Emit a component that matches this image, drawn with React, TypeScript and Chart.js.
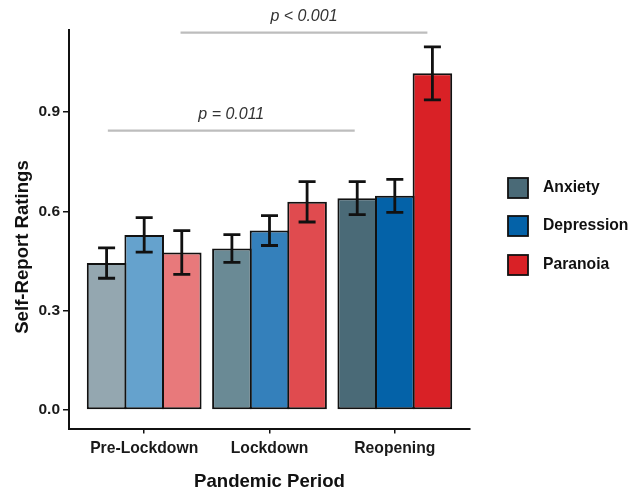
import React, { useEffect, useRef } from 'react';
import { Chart, registerables } from 'chart.js';

Chart.register(...registerables);

const periods = ['Pre-Lockdown', 'Lockdown', 'Reopening'];
const seriesNames = ['Anxiety', 'Depression', 'Paranoia'];
const anxietyMeans = [0.444, 0.488, 0.64];
const anxietyErrors = [0.046, 0.042, 0.05];
const depressionMeans = [0.529, 0.542, 0.647];
const depressionErrors = [0.052, 0.045, 0.05];
const paranoiaMeans = [0.476, 0.629, 1.017];
const paranoiaErrors = [0.066, 0.061, 0.08];
const anxietyColors = ['#94a7b0', '#6a8a95', '#4a6a77'];
const depressionColors = ['#65a2cd', '#3480bb', '#0462a8'];
const paranoiaColors = ['#e8797b', '#e04b4f', '#d92126'];
const yTicks = [0, 0.3, 0.6, 0.9];
const sigLabels = ['p = 0.011', 'p < 0.001'];
const sigStart = [0.71, 1.29];
const sigEnd = [2.68, 3.26];
const sigLevel = [0.844, 1.14];
const xTitle = 'Pandemic Period';
const yTitle = 'Self-Report Ratings';

const FONT = "'Liberation Sans', Arial, sans-serif";

const errorBarPlugin = {
  id: 'errorBars',
  afterDatasetsDraw(chart: any) {
    const ctx = chart.ctx;
    const y = chart.scales.y;
    chart.data.datasets.forEach((ds: any, d: number) => {
      const meta = chart.getDatasetMeta(d);
      meta.data.forEach((el: any, i: number) => {
        const v = ds.data[i].y;
        const e = ds.errors[i];
        const top = y.getPixelForValue(v + e);
        const bot = y.getPixelForValue(v - e);
        const cx = el.x;
        ctx.save();
        ctx.strokeStyle = '#111';
        ctx.lineWidth = 2.8;
        ctx.beginPath();
        ctx.moveTo(cx, top);
        ctx.lineTo(cx, bot);
        ctx.moveTo(cx - 8.5, top);
        ctx.lineTo(cx + 8.5, top);
        ctx.moveTo(cx - 8.5, bot);
        ctx.lineTo(cx + 8.5, bot);
        ctx.stroke();
        ctx.restore();
      });
    });
  },
};

const annotationPlugin = {
  id: 'annotations',
  afterDraw(chart: any) {
    const ctx = chart.ctx;
    const x = chart.scales.x;
    const y = chart.scales.y;
    const area = chart.chartArea;
    ctx.save();
    sigLabels.forEach((label, i) => {
      const x0 = x.getPixelForValue(sigStart[i]);
      const x1 = x.getPixelForValue(sigEnd[i]);
      const py = y.getPixelForValue(sigLevel[i]);
      ctx.strokeStyle = '#bdbdbd';
      ctx.lineWidth = 2.4;
      ctx.beginPath();
      ctx.moveTo(x0, py);
      ctx.lineTo(x1, py);
      ctx.stroke();
      ctx.fillStyle = '#333';
      ctx.font = `italic 16px ${FONT}`;
      ctx.textAlign = 'center';
      ctx.textBaseline = 'middle';
      ctx.fillText(label, (x0 + x1) / 2, py - 16);
    });
    ctx.fillStyle = '#111';
    ctx.font = `bold 18.6px ${FONT}`;
    ctx.textAlign = 'center';
    ctx.textBaseline = 'middle';
    ctx.fillText(xTitle, (area.left + area.right) / 2, 482);
    ctx.save();
    ctx.translate(23, 247);
    ctx.rotate(-Math.PI / 2);
    ctx.fillText(yTitle, 0, 0);
    ctx.restore();
    const centers = [188, 226, 265];
    chart.data.datasets.forEach((ds: any, d: number) => {
      const cy = centers[d];
      ctx.fillStyle = ds.legendColor;
      ctx.fillRect(508, cy - 10, 20, 20);
      ctx.strokeStyle = '#111';
      ctx.lineWidth = 1.8;
      ctx.strokeRect(508, cy - 10, 20, 20);
      ctx.fillStyle = '#111';
      ctx.font = `bold 15.7px ${FONT}`;
      ctx.textAlign = 'left';
      ctx.textBaseline = 'middle';
      ctx.fillText(ds.label, 543, cy);
    });
    ctx.restore();
  },
};

export default function App() {
  const ref = useRef<HTMLCanvasElement>(null);
  useEffect(() => {
    const means = [anxietyMeans, depressionMeans, paranoiaMeans];
    const errs = [anxietyErrors, depressionErrors, paranoiaErrors];
    const cols = [anxietyColors, depressionColors, paranoiaColors];
    const datasets = seriesNames.map((name, s) => ({
      label: name,
      data: periods.map((_, i) => ({ x: i + 1, y: means[s][i] })),
      errors: errs[s],
      backgroundColor: cols[s],
      legendColor: cols[s][2],
      borderColor: '#111',
      borderWidth: 2,
      borderSkipped: false,
      categoryPercentage: 0.9,
      barPercentage: 1.053,
    }));
    const chart = new Chart(ref.current as HTMLCanvasElement, {
      type: 'bar',
      data: { datasets } as any,
      plugins: [errorBarPlugin, annotationPlugin],
      options: {
        animation: false,
        responsive: false,
        devicePixelRatio: 1,
        events: [],
        layout: { padding: { left: 0, top: 29.5, right: 161, bottom: 0 } },
        plugins: { legend: { display: false }, tooltip: { enabled: false } },
        scales: {
          x: {
            type: 'linear',
            min: 0.4,
            max: 3.6,
            offset: false,
            grid: { display: true, drawOnChartArea: false, drawTicks: true, tickLength: 5, color: '#111', lineWidth: 1.5, offset: false },
            border: { display: true, color: '#111', width: 2 },
            afterFit: (s: any) => { s.height = 493 - 428.5; },
            afterBuildTicks: (s: any) => { s.ticks = periods.map((_, i) => ({ value: i + 1 })); },
            ticks: {
              padding: 6,
              color: '#1a1a1a',
              font: { family: FONT, size: 15.7, weight: 'bold' },
              callback: (v: any) => periods[Math.round(v) - 1] ?? '',
              maxRotation: 0,
            },
          },
          y: {
            type: 'linear',
            min: -0.0559,
            max: 1.1495,
            grid: { display: true, drawOnChartArea: false, drawTicks: true, tickLength: 6, color: '#111', lineWidth: 1.5 },
            border: { display: true, color: '#111', width: 2 },
            afterFit: (s: any) => { s.width = 69; },
            afterBuildTicks: (s: any) => { s.ticks = yTicks.map((v) => ({ value: v })); },
            ticks: {
              padding: 3,
              color: '#1a1a1a',
              font: { family: FONT, size: 15.5, weight: 'bold' },
              callback: (v: any) => Number(v).toFixed(1),
            },
          },
        },
      } as any,
    });
    return () => chart.destroy();
  }, []);
  return (
    <div style={{ position: 'fixed', left: 0, top: 0, width: 631, height: 493, background: '#fff' }}>
      <canvas ref={ref} width={631} height={493} style={{ display: 'block' }} />
    </div>
  );
}
